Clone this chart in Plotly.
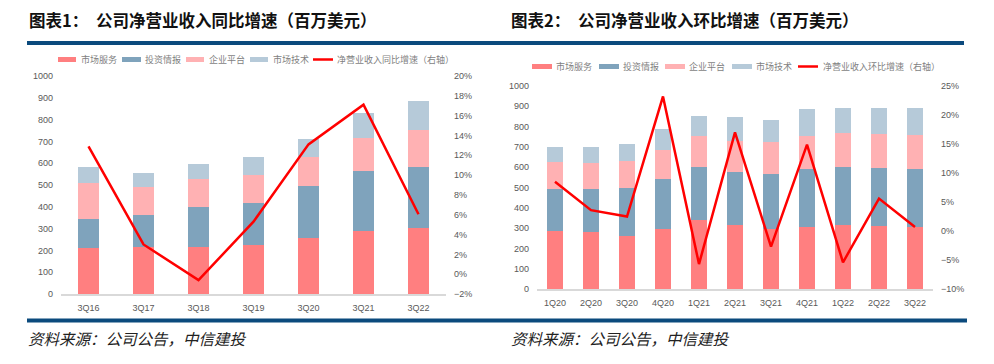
import plotly.graph_objects as go

W, H = 994, 364

# ---------------- data ----------------
cats_yoy = ['3Q16', '3Q17', '3Q18', '3Q19', '3Q20', '3Q21', '3Q22']
ms_yoy = [212, 216, 217, 223, 255, 289, 301]      # 市场服务
ir_yoy = [133, 146, 181, 196, 239, 274, 281]      # 投资情报
ep_yoy = [163, 129, 128, 126, 133, 154, 172]      # 企业平台
mt_yoy = [73, 63, 69, 83, 84, 113, 131]           # 市场技术
growth_yoy = [12.9, 3.0, -0.6, 5.3, 13.1, 17.1, 6.05]

cats_qoq = ['1Q20', '2Q20', '3Q20', '4Q20', '1Q21', '2Q21', '3Q21', '4Q21', '1Q22', '2Q22', '3Q22']
ms_qoq = [286, 282, 263, 296, 340, 315, 296, 303, 317, 312, 305]
ir_qoq = [208, 209, 236, 244, 259, 263, 272, 288, 284, 282, 286]
ep_qoq = [130, 128, 132, 146, 153, 149, 156, 163, 169, 168, 168]
mt_qoq = [77, 80, 85, 104, 98, 118, 110, 131, 123, 131, 131]
growth_qoq = [8.5, 3.6, 2.5, 23.2, -5.7, 17.0, -2.7, 14.9, -5.4, 5.6, 0.7]

series_names = ['市场服务', '投资情报', '企业平台', '市场技术']
colors = ['#FF7F80', '#7FA3BC', '#FFB1B3', '#B6CAD9']
line_color = '#FF0000'

# ---------------- helpers ----------------
def px(x):
    return x / W

def py(y):
    return 1 - y / H

fig = go.Figure()

# left chart
for name, vals, c in zip(series_names, [ms_yoy, ir_yoy, ep_yoy, mt_yoy], colors):
    fig.add_trace(go.Bar(x=cats_yoy, y=vals, name=name, marker=dict(color=c, line=dict(width=0)),
                         width=0.39, xaxis='x', yaxis='y', showlegend=False))
fig.add_trace(go.Scatter(x=cats_yoy, y=growth_yoy, mode='lines', line=dict(color=line_color, width=2.5),
                         xaxis='x', yaxis='y2', showlegend=False, name='净营业收入同比增速（右轴）'))

# right chart
for name, vals, c in zip(series_names, [ms_qoq, ir_qoq, ep_qoq, mt_qoq], colors):
    fig.add_trace(go.Bar(x=cats_qoq, y=vals, name=name, marker=dict(color=c, line=dict(width=0)),
                         width=0.42, xaxis='x2', yaxis='y3', showlegend=False))
fig.add_trace(go.Scatter(x=cats_qoq, y=growth_qoq, mode='lines', line=dict(color=line_color, width=2.5),
                         xaxis='x2', yaxis='y4', showlegend=False, name='净营业收入环比增速（右轴）'))

tick_font = dict(family='Liberation Sans, Arial, sans-serif', size=9, color='#595959')

xcommon = dict(type='category', showline=True, linecolor='#D9D9D9', linewidth=2, automargin=False,
               showgrid=False, zeroline=False, ticks='', tickfont=tick_font, ticklabelstandoff=4)
ycommon = dict(showgrid=False, zeroline=False, showline=False, ticks='', tickfont=tick_font,
               ticklabelstandoff=7, automargin=False)

fig.update_layout(
    width=W, height=H,
    margin=dict(l=0, r=0, t=0, b=0, autoexpand=False),
    paper_bgcolor='white', plot_bgcolor='white',
    barmode='stack',
    xaxis=dict(**xcommon, domain=[px(61), px(446)], range=[-0.5, 6.5], anchor='y'),
    yaxis=dict(**ycommon, domain=[py(294), py(76)], range=[0, 1000], dtick=100, anchor='x'),
    yaxis2=dict(**ycommon, overlaying='y', side='right', range=[-2, 20], dtick=2,
                ticksuffix='%', anchor='x'),
    xaxis2=dict(**xcommon, domain=[px(537), px(933)], range=[-0.5, 10.5], anchor='y3'),
    yaxis3=dict(**ycommon, domain=[py(289), py(86)], range=[0, 1000], dtick=100, anchor='x2'),
    yaxis4=dict(**ycommon, overlaying='y3', side='right', range=[-10, 25], dtick=5,
                ticksuffix='%', anchor='x2'),
)

shapes = []
annotations = []

# blue rules
rule_color = '#0B4A7D'
shapes.append(dict(type='line', xref='paper', yref='paper', x0=px(27), x1=px(964), y0=py(43), y1=py(43),
                   line=dict(color=rule_color, width=4)))
shapes.append(dict(type='line', xref='paper', yref='paper', x0=px(27), x1=px(967), y0=py(320.5), y1=py(320.5),
                   line=dict(color=rule_color, width=4)))

title_font = dict(family='Noto Sans CJK SC, sans-serif', size=16.5, color='#111111')

def add_text(x, y, text, font):
    annotations.append(dict(xref='paper', yref='paper', x=px(x), y=py(y), text=text, showarrow=False,
                            xanchor='left', yanchor='middle', font=font))

add_text(27, 19.5, '<b>图表1：</b>', title_font)
add_text(94, 19.5, '<b>公司净营业收入同比增速（百万美元）</b>', title_font)
add_text(509, 19.5, '<b>图表2：</b>', title_font)
add_text(576, 19.5, '<b>公司净营业收入环比增速（百万美元）</b>', title_font)

foot_font = dict(family='Noto Sans CJK SC, sans-serif', size=15.5, color='#222222')
add_text(26, 338, '<i>资料来源：公司公告，中信建投</i>', foot_font)
add_text(509, 338, '<i>资料来源：公司公告，中信建投</i>', foot_font)

# legends
leg_font = dict(family='Noto Sans CJK SC, sans-serif', size=9, color='#7F7F7F')

def legend(items, y):
    for kind, color, x0, x1, tx, label in items:
        if kind == 'bar':
            shapes.append(dict(type='rect', xref='paper', yref='paper', x0=px(x0), x1=px(x1),
                               y0=py(y + 2.5), y1=py(y - 2.5), fillcolor=color, line=dict(width=0)))
        else:
            shapes.append(dict(type='line', xref='paper', yref='paper', x0=px(x0), x1=px(x1),
                               y0=py(y), y1=py(y), line=dict(color=color, width=2.5)))
        add_text(tx, y, label, leg_font)

legend([
    ('bar', colors[0], 58, 76, 79, series_names[0]),
    ('bar', colors[1], 122, 141, 143, series_names[1]),
    ('bar', colors[2], 186, 204, 207, series_names[2]),
    ('bar', colors[3], 250, 268, 271, series_names[3]),
    ('line', line_color, 313, 333, 335, '净营业收入同比增速（右轴）'),
], 59.5)

legend([
    ('bar', colors[0], 532, 552, 554, series_names[0]),
    ('bar', colors[1], 599, 619, 621, series_names[1]),
    ('bar', colors[2], 665, 685, 687, series_names[2]),
    ('bar', colors[3], 732, 752, 754, series_names[3]),
    ('line', line_color, 798, 818, 821, '净营业收入环比增速（右轴）'),
], 66.5)

fig.update_layout(shapes=shapes, annotations=annotations)

fig.write_html('out.html', config={'displayModeBar': False},
               post_script="document.body.style.margin='0';document.body.style.overflow='hidden';")
